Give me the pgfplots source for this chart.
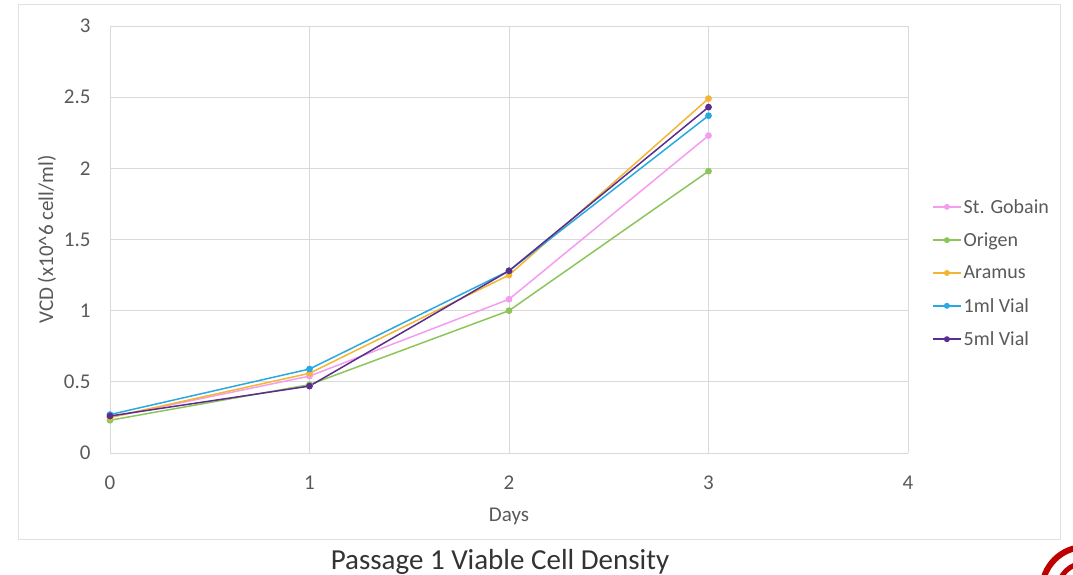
\documentclass[border=0pt]{standalone}
\usepackage{pgfplots}
\pgfplotsset{compat=1.18}
\usepackage{fontspec}
\setmainfont{Carlito}
\definecolor{cGob}{HTML}{F49CF0}
\definecolor{cOri}{HTML}{8CC65A}
\definecolor{cAra}{HTML}{F4B533}
\definecolor{cVial1}{HTML}{29A9E1}
\definecolor{cVial5}{HTML}{5A2D8E}
\definecolor{gridc}{HTML}{D9D9D9}
\definecolor{txt}{HTML}{595959}
\begin{document}
\begin{tikzpicture}[x=1pt,y=1pt]
\useasboundingbox (0,0) rectangle (1073,575);
\draw[color=gridc!80, line width=1pt] (18,35) rectangle (1060,570);
\begin{axis}[
  at={(110pt,122pt)}, anchor=south west,
  width=798pt, height=427pt, scale only axis,
  xmin=0, xmax=4, ymin=0, ymax=3,
  xtick={0,1,2,3,4}, ytick={0,0.5,1,1.5,2,2.5,3},
  yticklabels={0,0.5,1,1.5,2,2.5,3},
  xticklabels={0,1,2,3,4},
  grid=major,
  grid style={color=gridc, line width=0.8pt},
  axis line style={draw=none},
  major tick length=0pt,
  tick label style={font=\fontsize{21}{23}\selectfont, text=txt},
  xticklabel style={yshift=-19pt},
  yticklabel style={xshift=-16pt},
  xlabel={Days},
  ylabel={VCD (x10\^{}6 cell/ml)},
  label style={font=\fontsize{21}{23}\selectfont, text=txt},
  xlabel style={at={(axis description cs:0.5,0)}, anchor=center, yshift=-63pt},
  ylabel style={at={(axis description cs:0,0.5)}, anchor=center, yshift=63pt},
  legend style={at={(axis description cs:1.03,0.4215)}, anchor=west, draw=none, fill=none,
    font=\fontsize{20}{22}\selectfont, text=txt, row sep=14pt, inner xsep=0pt},
  legend cell align=left,
  legend image code/.code={\draw[#1] (0pt,0pt) -- (28pt,0pt); \fill[#1] (14pt,0pt) circle (2.2pt);},
  every axis plot/.append style={line width=1.5pt, mark=*, mark size=2.6pt},
]
\addplot[color=cGob, mark options={fill=cGob, draw=cGob}] coordinates {(0,0.25) (1,0.54) (2,1.08) (3,2.23)};
\addlegendentry{St. Gobain}
\addplot[color=cOri, mark options={fill=cOri, draw=cOri}] coordinates {(0,0.23) (1,0.48) (2,1.00) (3,1.98)};
\addlegendentry{Origen}
\addplot[color=cAra, mark options={fill=cAra, draw=cAra}] coordinates {(0,0.25) (1,0.56) (2,1.25) (3,2.49)};
\addlegendentry{Aramus}
\addplot[color=cVial1, mark options={fill=cVial1, draw=cVial1}] coordinates {(0,0.27) (1,0.59) (2,1.28) (3,2.37)};
\addlegendentry{1ml Vial}
\addplot[color=cVial5, mark options={fill=cVial5, draw=cVial5}] coordinates {(0,0.26) (1,0.47) (2,1.28) (3,2.43)};
\addlegendentry{5ml Vial}
\end{axis}
\node[font=\fontsize{29}{31}\selectfont, text=black!80] at (500,13) {Passage 1 Viable Cell Density};
\begin{scope}
\clip (1030,0) rectangle (1073,35);
\draw[color=red!75!black, line width=6pt] (1085,-15) circle (43);
\draw[color=red!75!black, line width=5pt] (1085,-15) circle (27);
\end{scope}
\end{tikzpicture}
\end{document}
